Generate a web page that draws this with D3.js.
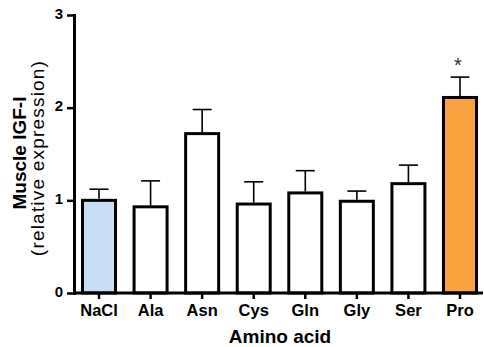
<!DOCTYPE html>
<html>
<head>
<meta charset="utf-8">
<script src="https://cdn.jsdelivr.net/npm/d3@7"></script>
<style>
  body { margin: 0; background: #fff; }
  svg { display: block; font-family: Arial, "Liberation Sans", sans-serif; }
</style>
</head>
<body>
<svg id="chart" width="484" height="347"></svg>
<script>
const categories = ["NaCl", "Ala", "Asn", "Cys", "Gln", "Gly", "Ser", "Pro"];
const means = [1.00, 0.93, 1.72, 0.96, 1.08, 0.99, 1.18, 2.11];
const errors = [0.12, 0.28, 0.26, 0.24, 0.24, 0.11, 0.20, 0.22];
const fills = ["#c9ddf5", "#ffffff", "#ffffff", "#ffffff", "#ffffff", "#ffffff", "#ffffff", "#f9a23e"];
const significance = ["", "", "", "", "", "", "", "*"];
const yTicks = [0, 1, 2, 3];

const svg = d3.select("#chart");
const y = d3.scaleLinear().domain([0, 3]).range([293, 15]);
const x = d3.scaleBand().domain(categories).range([74, 485]).paddingInner(0.36).paddingOuter(0.165);

// bars
svg.append("g").selectAll("rect").data(categories).join("rect")
  .attr("x", d => x(d))
  .attr("y", (d, i) => y(means[i]))
  .attr("width", x.bandwidth())
  .attr("height", (d, i) => y(0) - y(means[i]))
  .attr("fill", (d, i) => fills[i])
  .attr("stroke", "#000")
  .attr("stroke-width", 3);

// error bars
const eb = svg.append("g").attr("stroke", "#000").attr("stroke-width", 1.6);
categories.forEach((c, i) => {
  const cx = x(c) + x.bandwidth() / 2;
  eb.append("line").attr("x1", cx).attr("x2", cx)
    .attr("y1", y(means[i]) - 1.5).attr("y2", y(means[i] + errors[i]));
  eb.append("line").attr("x1", cx - 9.5).attr("x2", cx + 9.5)
    .attr("y1", y(means[i] + errors[i])).attr("y2", y(means[i] + errors[i]));
});

// significance
svg.append("g").selectAll("text").data(categories).join("text")
  .attr("x", d => x(d) + x.bandwidth() / 2 - 2)
  .attr("y", (d, i) => y(means[i] + errors[i]) - 5)
  .attr("text-anchor", "middle")
  .attr("font-size", 20)
  .attr("fill", "#333")
  .text((d, i) => significance[i]);

// y axis
const yAxis = svg.append("g").attr("transform", "translate(74,0)")
  .call(d3.axisLeft(y).tickValues(yTicks).tickFormat(d3.format("d")).tickSize(7).tickSizeOuter(0).tickPadding(4));
yAxis.select(".domain").attr("stroke-width", 3).attr("stroke-linecap", "square");
yAxis.selectAll(".tick line").attr("stroke-width", 2.5);
yAxis.selectAll(".tick text").attr("font-size", 15).attr("font-weight", "bold").attr("dy", "0.2em").attr("fill", "#000");

// x axis
const xAxis = svg.append("g").attr("transform", "translate(0,293)")
  .call(d3.axisBottom(x).tickSize(6).tickSizeOuter(0).tickPadding(5));
xAxis.select(".domain").attr("stroke-width", 3).attr("d", "M74,0H483");
xAxis.selectAll(".tick line").attr("stroke-width", 2.5);
xAxis.selectAll(".tick text").attr("font-size", 16.5).attr("font-weight", "bold").attr("fill", "#000");

// titles
svg.append("text").attr("x", 280).attr("y", 343).attr("text-anchor", "middle")
  .attr("font-size", 19).attr("font-weight", "bold").text("Amino acid");
svg.append("text").attr("transform", "translate(26,153) rotate(-90)").attr("text-anchor", "middle")
  .attr("font-size", 19).attr("font-weight", "bold").text("Muscle IGF-I");
svg.append("text").attr("transform", "translate(44,158) rotate(-90)").attr("text-anchor", "middle")
  .attr("font-size", 19).attr("letter-spacing", 1.2).text("(relative expression)");
</script>
</body>
</html>
